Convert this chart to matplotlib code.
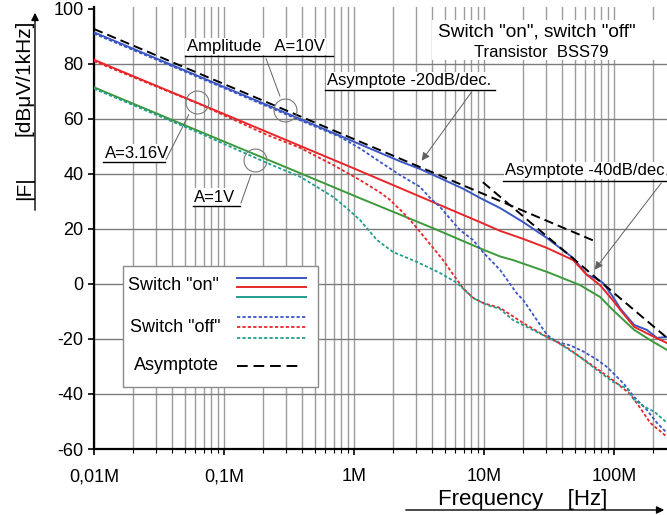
import numpy as np
import matplotlib
matplotlib.use("Agg")
import matplotlib.pyplot as plt
from matplotlib.ticker import FixedLocator, LogLocator, NullFormatter
from matplotlib.patches import Rectangle, FancyArrowPatch

plt.rcParams['font.family'] = ['Liberation Sans', 'DejaVu Sans']
plt.rcParams['axes.unicode_minus'] = False

# frequency in MHz, level in dBuV/1kHz
f_on_10 = [0.01, 0.0654, 0.385, 1.11, 2.26, 3.22, 5.0, 7.0, 9.31, 13.3, 20, 30.5,
           48.4, 61.9, 71.4, 82.3, 98.2, 112, 143, 179, 214, 256]
on_10 = [91.5, 75.3, 60.0, 50.8, 44.6, 41.8, 37.7, 34.5, 31.3, 27.6, 22.5, 16.7,
         9.5, 3.3, 2.2, 0.4, -4.7, -9.0, -14.9, -16.7, -19.6, -19.3]

f_on_316 = [0.01, 0.1, 1.0, 9.31, 13.3, 20, 30.5, 48.4, 61.9, 78, 98.2, 112, 143, 189, 256]
on_316 = [81.5, 61.8, 42.0, 22.5, 19.3, 16.4, 13.1, 8.7, 3.3, -0.4, -6.0, -9.5, -15.6, -18.5, -21.5]

f_on_1 = [0.01, 0.0654, 0.385, 1.11, 4.05, 9.5, 13.3, 16.7, 30.5, 54.7, 78, 98.2, 143, 190, 256]
on_1 = [71.5, 55.4, 40.3, 31.2, 20.3, 12.8, 10.0, 8.7, 4.4, -0.4, -4.7, -9.5, -16.7, -20.4, -24.0]

f_off_10 = [0.01, 0.0654, 0.385, 0.78, 1.11, 1.585, 2.26, 3.22, 3.84, 4.59, 5.47, 6.54, 8.23,
            9.8, 13.3, 17.8, 20, 30.5, 36.5, 45.9, 57.8, 74, 88.3, 98.2, 120, 143, 179, 214, 256]
off_10 = [91.0, 74.9, 59.5, 53.5, 49.3, 44.4, 39.6, 35.3, 31.3, 28.0, 23.8, 19.6, 16.0,
          11.6, 5.1, -3.3, -5.8, -18.5, -21.1, -22.3, -24.5, -27.5, -30.2, -32.3, -36.5, -41.1,
          -45.8, -50.5, -54.2]

f_off_316 = [0.01, 0.0654, 0.214, 0.385, 0.689, 1.11, 1.585, 1.89, 2.26, 2.70, 3.05, 3.84, 4.84,
             5.78, 6.89, 8.23, 9.8, 13.3, 20, 30.5, 36.5, 44, 54.7, 74, 98.2, 133, 157, 190, 256]
off_316 = [81.0, 65.3, 54.2, 49.5, 43.3, 37.8, 33.3, 30.6, 27.0, 23.3, 20.3, 14.5, 8.7,
           3.5, -1.5, -5.0, -6.9, -8.7, -14.2, -19.3, -21.1, -23.3, -26.5, -30.8, -35.0, -40.0,
           -44.7, -50.5, -55.6]

f_off_1 = [0.01, 0.0654, 0.214, 0.385, 0.689, 0.883, 1.11, 1.50, 2.0, 3.05, 4.59, 6.2, 8.23,
           10.5, 13.3, 16.7, 30.5, 36.5, 54.7, 74, 98.2, 126, 143, 179, 205, 256]
off_1 = [71.0, 54.8, 44.0, 39.0, 31.7, 27.5, 23.3, 16.0, 11.6, 8.0, 4.0, 0.4, -5.1,
         -7.6, -9.1, -13.1, -19.3, -21.1, -26.5, -31.3, -35.6, -38.0, -42.2, -45.1, -46.5, -50.5]

# asymptotes
f_asym20 = [0.01, 71]
asym20 = [92.7, 15.6]
f_asym40 = [9.8, 256]
asym40 = [37.0, -19.6]

xticks = [0.01, 0.1, 1, 10, 100]
xticklabels = ['0,01M', '0,1M', '1M', '10M', '100M']
yticks = [-60, -40, -20, 0, 20, 40, 60, 80, 100]

blue = '#3a56c4'
red = '#e8262a'
green = '#3c9a3c'
teal = '#1f9e8e'
dot = (0, (1.8, 1.2))
dash = (0, (4.8, 2.6))

fig = plt.figure(figsize=(6.67, 5.15), dpi=100)
ax = fig.add_axes([94 / 667, 66 / 515, 573 / 667, 442 / 515])
ax.set_xscale('log')
ax.set_xlim(0.01, 0.01 * 10 ** (573 / 130))
ax.set_ylim(-60, 100.7)

ax.plot(f_on_10, on_10, color=blue, lw=1.4, zorder=3)
ax.plot(f_on_316, on_316, color=red, lw=1.4, zorder=3)
ax.plot(f_on_1, on_1, color=green, lw=1.4, zorder=3)
ax.plot(f_off_10, off_10, color=blue, lw=1.3, ls=dot, zorder=3)
ax.plot(f_off_316, off_316, color=red, lw=1.3, ls=dot, zorder=3)
ax.plot(f_off_1, off_1, color=teal, lw=1.3, ls=dot, zorder=3)
ax.plot(f_asym20, asym20, color='black', lw=1.4, ls=dash, zorder=3)
ax.plot(f_asym40, asym40, color='black', lw=1.4, ls=dash, zorder=3)

# axes, ticks, grid
ax.xaxis.set_major_locator(FixedLocator(xticks))
ax.set_xticklabels(xticklabels)
ax.xaxis.set_minor_locator(LogLocator(base=10, subs=np.arange(2, 10)))
ax.xaxis.set_minor_formatter(NullFormatter())
ax.set_yticks(yticks)
ax.tick_params(axis='both', which='major', labelsize=13, direction='out', length=4, width=1.2)
ax.tick_params(axis='x', which='major', pad=10)
ax.tick_params(axis='x', which='minor', direction='out', length=3, width=0.8)
ax.grid(True, which='both', axis='x', color='#9c9c9c', lw=1.0, zorder=0)
ax.grid(True, which='major', axis='y', color='#7c7c7c', lw=1.0, zorder=0)
ax.yaxis.get_gridlines()[-1].set_visible(False)
for s in ['top', 'right']:
    ax.spines[s].set_visible(False)
for s in ['left', 'bottom']:
    ax.spines[s].set_linewidth(1.6)

box = dict(facecolor='white', edgecolor='none', pad=1.0)
lead = dict(arrowstyle='-', color='#606060', lw=0.7)
arr = dict(arrowstyle='-|>', color='#606060', lw=0.7, mutation_scale=12)

# underlined labels with leader lines
ax.text(0.0515, 86.3, 'Amplitude   A=10V', fontsize=12, ha='left', va='center', bbox=box, zorder=5)
ax.plot([0.05, 0.69], [82.9, 82.9], color='black', lw=1.0, zorder=5)
ax.annotate('', xy=(0.274, 67.3), xytext=(0.207, 82.9), arrowprops=lead, zorder=5)

ax.text(0.0122, 47.6, 'A=3.16V', fontsize=12, ha='left', va='center', bbox=box, zorder=5)
ax.plot([0.0117, 0.0351], [44.4, 44.4], color='black', lw=1.0, zorder=5)
ax.annotate('', xy=(0.0548, 62.5), xytext=(0.0351, 44.4), arrowprops=lead, zorder=5)

ax.text(0.059, 31.5, 'A=1V', fontsize=12, ha='left', va='center', bbox=box, zorder=5)
ax.plot([0.0578, 0.1327], [28.4, 28.4], color='black', lw=1.0, zorder=5)
ax.annotate('', xy=(0.164, 40.7), xytext=(0.1327, 28.4), arrowprops=lead, zorder=5)

ax.text(0.62, 73.8, 'Asymptote -20dB/dec.', fontsize=12, ha='left', va='center', bbox=box, zorder=5)
ax.plot([0.598, 12.2], [70.5, 70.5], color='black', lw=1.0, zorder=5)
ax.annotate('', xy=(3.22, 44.0), xytext=(8.23, 70.5), arrowprops=arr, zorder=5)

ax.text(14.5, 41.3, 'Asymptote -40dB/dec', fontsize=12, ha='left', va='center', bbox=box,
        zorder=5, clip_on=False)
ax.plot([14.0, 300], [37.5, 37.5], color='black', lw=1.0, zorder=5, clip_on=False)
ax.annotate('', xy=(68.9, 4.4), xytext=(238, 37.5), arrowprops=arr, zorder=5,
            annotation_clip=False)

# circles marking the curves
for cx, cy in [(0.295, 63.3), (0.062, 66.2), (0.173, 45.1)]:
    ax.plot([cx], [cy], 'o', ms=16.5, mfc='none', mec='#7a7a7a', mew=0.8, zorder=5)

# heading
ax.add_patch(Rectangle((0.590, 0.880), 0.389, 0.0905, transform=ax.transAxes,
                       facecolor='white', edgecolor='none', zorder=4))
ax.text(0.773, 0.943, 'Switch "on", switch "off"', transform=ax.transAxes, fontsize=13.7,
        ha='center', va='center', zorder=5)
ax.text(0.781, 0.896, 'Transistor  BSS79', transform=ax.transAxes, fontsize=12,
        ha='center', va='center', zorder=5)

# legend drawn by hand
ax.add_patch(Rectangle((0.0506, 0.140), 0.3404, 0.274, transform=ax.transAxes,
                       facecolor='white', edgecolor='#8a8a8a', lw=1.0, zorder=4))
lx = [0.2496, 0.370]
for yy, c in [(0.387, blue), (0.3665, red), (0.344, teal)]:
    ax.plot(lx, [yy, yy], color=c, lw=1.4, transform=ax.transAxes, zorder=5)
for yy, c in [(0.2986, blue), (0.276, red), (0.251, teal)]:
    ax.plot(lx, [yy, yy], color=c, lw=1.3, ls=dot, transform=ax.transAxes, zorder=5)
ax.plot([0.2496, 0.363], [0.188, 0.188], color='black', lw=1.4, ls=(0, (5.5, 3.0)),
        transform=ax.transAxes, zorder=5)
ax.text(0.059, 0.371, 'Switch "on"', transform=ax.transAxes, fontsize=13, va='center', zorder=5)
ax.text(0.063, 0.274, 'Switch "off"', transform=ax.transAxes, fontsize=13, va='center', zorder=5)
ax.text(0.070, 0.188, 'Asymptote', transform=ax.transAxes, fontsize=13, va='center', zorder=5)

# axis titles with arrows
fig.text(24 / 667, (515 - 78) / 515, '[dB\u03bcV/1kHz]', rotation=90, fontsize=15,
         ha='center', va='center')
fig.text(25 / 667, (515 - 188) / 515, '|F|', rotation=90, fontsize=15, ha='center', va='center')
fig.add_artist(FancyArrowPatch((35 / 667, (515 - 213) / 515), (35 / 667, (515 - 10) / 515),
                               transform=fig.transFigure, arrowstyle='-|>',
                               mutation_scale=11, color='black', lw=1.0))
fig.text(438 / 667, (515 - 505) / 515, 'Frequency    [Hz]', fontsize=16, ha='left',
         va='baseline')
fig.add_artist(FancyArrowPatch((403 / 667, (515 - 510) / 515), (1.0, (515 - 510) / 515),
                               transform=fig.transFigure, arrowstyle='-|>',
                               mutation_scale=11, color='black', lw=1.0))

fig.savefig('out.png', dpi=100)
